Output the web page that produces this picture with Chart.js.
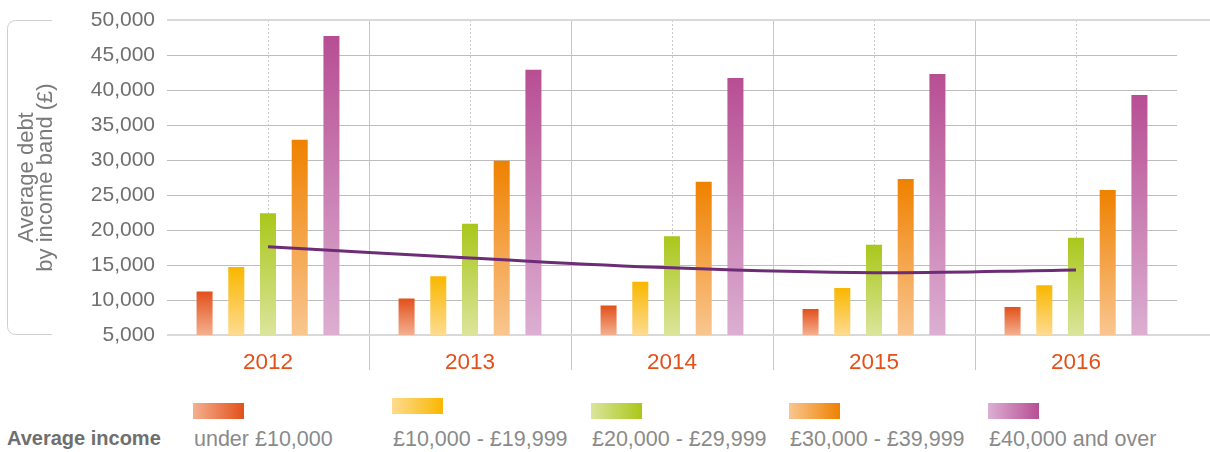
<!DOCTYPE html>
<html>
<head>
<meta charset="utf-8">
<script src="https://cdn.jsdelivr.net/npm/chart.js@4.4.1/dist/chart.umd.min.js"></script>
<style>
  body { margin: 0; background: #fff; font-family: "Liberation Sans", Arial, sans-serif; }
  #wrap { position: relative; width: 1210px; height: 452px; }
  #chartBox { position: absolute; left: 0; top: 0; width: 1210px; height: 380px; }
  .legend-title { position: absolute; left: 7px; top: 427px; font-size: 20px; font-weight: bold; color: #6f6f6f; }
  .sw { position: absolute; width: 51px; height: 16px; }
  .lt { position: absolute; top: 427px; font-size: 21.5px; color: #8a8a8a; white-space: nowrap; }
</style>
</head>
<body>
<div id="wrap">
  <div id="chartBox"><canvas id="debtChart"></canvas></div>
  <div class="legend-title">Average income</div>
  <div id="legend"></div>
</div>
<script>
const years = ['2012', '2013', '2014', '2015', '2016'];
const bands = ['under £10,000', '£10,000 - £19,999', '£20,000 - £29,999', '£30,000 - £39,999', '£40,000 and over'];

const under10k = [11200, 10200, 9200, 8700, 9000];
const from10k  = [14700, 13400, 12600, 11700, 12100];
const from20k  = [22400, 20900, 19100, 17900, 18900];
const from30k  = [32900, 29900, 26900, 27300, 25700];
const over40k  = [47700, 42900, 41700, 42300, 39300];
const averageDebt = [17600, 16000, 14600, 13900, 14300];

const yTicks = [5000, 10000, 15000, 20000, 25000, 30000, 35000, 40000, 45000, 50000];

// top (dark) / bottom (light) colours of each band
const bandColors = [
    ['#e2501b', '#f4b08f'],
    ['#f9b700', '#fedb90'],
    ['#a9c71a', '#dce59b'],
    ['#ef8100', '#f9c690'],
    ['#b74e93', '#dcafd2']
];

function barFill(top, bottom) {
    return (c) => {
        const y = c.chart.scales.y;
        if (!y || c.type !== 'data' || !c.chart.chartArea) return top;
        const y0 = y.getPixelForValue(c.raw);
        const y1 = y.getPixelForValue(yTicks[0]);
        if (!Number.isFinite(y0) || !Number.isFinite(y1) || y0 === y1) return top;
        const g = c.chart.ctx.createLinearGradient(0, y0, 0, y1);
        g.addColorStop(0, top);
        g.addColorStop(1, bottom);
        return g;
    };
}

const series = [under10k, from10k, from20k, from30k, over40k];

const datasets = [{
    type: 'line',
    label: 'Average',
    data: averageDebt,
    borderColor: '#6c2d76',
    borderWidth: 3,
    pointRadius: 0,
    tension: 0.4,
    fill: false,
    order: 0
}];
series.forEach((vals, i) => {
    datasets.push({
        type: 'bar',
        label: bands[i],
        data: vals,
        backgroundColor: barFill(bandColors[i][0], bandColors[i][1]),
        borderWidth: 0,
        categoryPercentage: 0.785,
        barPercentage: 0.505,
        order: 1
    });
});

// dotted centre lines, light top/bottom rules and the bracket round the axis title
const decor = {
    id: 'decor',
    beforeDatasetsDraw(chart) {
        const { ctx, chartArea, scales } = chart;
        ctx.save();
        ctx.strokeStyle = '#c9c9c9';
        ctx.lineWidth = 1;
        ctx.setLineDash([2, 2]);
        years.forEach((_, i) => {
            const x = Math.round(scales.x.getPixelForValue(i)) + 0.5;
            ctx.beginPath();
            ctx.moveTo(x, chartArea.top);
            ctx.lineTo(x, chartArea.bottom);
            ctx.stroke();
        });
        ctx.setLineDash([]);
        ctx.strokeStyle = '#d9d9d9';
        ctx.lineWidth = 2;
        [yTicks[0], yTicks[yTicks.length - 1]].forEach(v => {
            const y = Math.round(scales.y.getPixelForValue(v));
            ctx.beginPath();
            ctx.moveTo(chartArea.left, y);
            ctx.lineTo(chart.width, y);
            ctx.stroke();
        });
        // bracket
        const t = chartArea.top + 0.5, b = chartArea.bottom - 0.5, l = 7.5, r = 52, rad = 8;
        ctx.strokeStyle = '#cfcfcf';
        ctx.lineWidth = 1;
        ctx.beginPath();
        ctx.moveTo(r, t);
        ctx.lineTo(l + rad, t);
        ctx.arcTo(l, t, l, t + rad, rad);
        ctx.lineTo(l, b - rad);
        ctx.arcTo(l, b, l + rad, b, rad);
        ctx.lineTo(r, b);
        ctx.stroke();
        ctx.restore();
    }
};

const hidden = 'rgba(0,0,0,0)';

new Chart(document.getElementById('debtChart').getContext('2d'), {
    type: 'bar',
    data: { labels: years, datasets: datasets },
    options: {
        responsive: true,
        maintainAspectRatio: false,
        animation: false,
        layout: { padding: { top: 20, right: 33, left: 0, bottom: 0 } },
        plugins: { legend: { display: false }, tooltip: { enabled: false } },
        scales: {
            x: {
                border: { display: false },
                grid: {
                    offset: true,
                    color: (c) => (c.type !== 'tick' || c.index === 0) ? hidden : '#c6c6c6',
                    lineWidth: 1,
                    tickLength: 35
                },
                ticks: {
                    color: '#e4501a',
                    font: { family: '"Liberation Sans", Arial, sans-serif', size: 22.5 },
                    padding: -21
                },
                afterFit(scale) { scale.height = 45; }
            },
            y: {
                min: 5000,
                max: 50000,
                border: { display: false },
                grid: {
                    drawTicks: true,
                    tickLength: 12,
                    tickColor: hidden,
                    color: (c) => (c.type !== 'tick' || c.index === 0 || c.index === yTicks.length - 1) ? hidden : '#bdbdbd',
                    lineWidth: 1
                },
                ticks: {
                    stepSize: 5000,
                    padding: 0,
                    color: '#6f6f6f',
                    font: { family: '"Liberation Sans", Arial, sans-serif', size: 21 },
                    callback: (v) => v.toLocaleString('en-GB')
                },
                title: {
                    display: true,
                    text: ['Average debt', 'by income band (£)'],
                    color: '#7a7a7a',
                    font: { family: '"Liberation Sans", Arial, sans-serif', size: 22, lineHeight: 0.87 },
                    padding: { top: 17.5, bottom: 0 }
                },
                afterFit(scale) { scale.width = 167; }
            }
        }
    },
    plugins: [decor]
});

// legend
const swLeft = [193, 392, 591, 789, 988];
const swTop = [403, 398, 403, 403, 403];
const legend = document.getElementById('legend');
bands.forEach((name, i) => {
    const sw = document.createElement('div');
    sw.className = 'sw';
    sw.style.left = swLeft[i] + 'px';
    sw.style.top = swTop[i] + 'px';
    sw.style.background = `linear-gradient(to right, ${bandColors[i][1]}, ${bandColors[i][0]})`;
    legend.appendChild(sw);
    const t = document.createElement('div');
    t.className = 'lt';
    t.style.left = (swLeft[i] + 1) + 'px';
    t.textContent = name;
    legend.appendChild(t);
});
</script>
</body>
</html>
